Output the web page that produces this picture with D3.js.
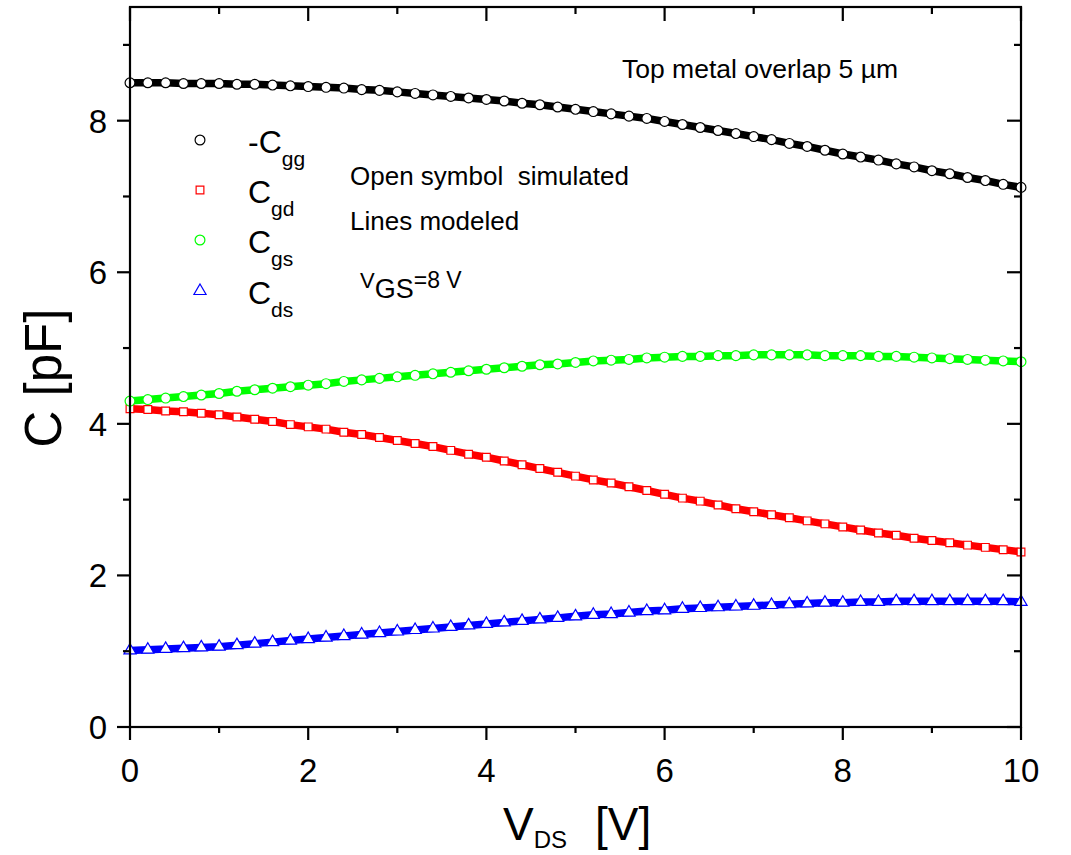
<!DOCTYPE html>
<html><head><meta charset="utf-8">
<script src="https://cdn.jsdelivr.net/npm/d3@7"></script>
<style>body{margin:0;background:#fff}svg{display:block;font-family:"Liberation Sans",Arial,sans-serif}</style>
</head><body>
<script>
const vds = d3.range(51).map(i => +(i * 0.2).toFixed(1));
const cgg = [8.50,8.50,8.50,8.49,8.49,8.49,8.48,8.48,8.47,8.46,8.45,8.44,8.43,8.41,8.40,8.38,8.36,8.34,8.32,8.30,8.28,8.26,8.23,8.21,8.18,8.15,8.12,8.09,8.06,8.03,7.99,7.95,7.91,7.87,7.83,7.79,7.75,7.70,7.66,7.61,7.56,7.52,7.48,7.43,7.39,7.34,7.30,7.25,7.21,7.16,7.12];
const cgd = [4.20,4.19,4.17,4.16,4.14,4.12,4.09,4.06,4.03,3.99,3.96,3.93,3.89,3.86,3.82,3.78,3.74,3.70,3.65,3.60,3.56,3.51,3.46,3.41,3.36,3.31,3.26,3.22,3.17,3.12,3.07,3.02,2.98,2.93,2.88,2.84,2.80,2.76,2.72,2.68,2.64,2.60,2.56,2.53,2.49,2.46,2.43,2.40,2.37,2.34,2.31];
const cgs = [4.30,4.32,4.34,4.36,4.38,4.40,4.43,4.45,4.47,4.49,4.51,4.53,4.56,4.58,4.60,4.62,4.64,4.66,4.68,4.70,4.72,4.74,4.76,4.78,4.79,4.81,4.83,4.84,4.85,4.87,4.88,4.89,4.89,4.90,4.90,4.91,4.91,4.91,4.91,4.90,4.90,4.90,4.89,4.89,4.88,4.87,4.86,4.85,4.84,4.83,4.82];
const cds = [1.01,1.02,1.03,1.04,1.05,1.06,1.08,1.10,1.12,1.14,1.16,1.18,1.20,1.22,1.24,1.26,1.28,1.30,1.32,1.34,1.36,1.38,1.40,1.42,1.44,1.46,1.48,1.49,1.51,1.53,1.54,1.56,1.57,1.58,1.59,1.60,1.61,1.62,1.63,1.64,1.64,1.65,1.65,1.66,1.66,1.66,1.66,1.66,1.66,1.66,1.65];
const xTicks = [0,2,4,6,8,10];
const yTicks = [0,2,4,6,8];
const seriesNames = ["-C","C","C","C"];
const seriesSubs = ["gg","gd","gs","ds"];
const series = [
  {values: cgg, color: "#000000", symbol: d3.symbolCircle},
  {values: cgd, color: "#ff0000", symbol: d3.symbolSquare},
  {values: cgs, color: "#00ff00", symbol: d3.symbolCircle},
  {values: cds, color: "#0000ff", symbol: d3.symbolTriangle}
];

const W = 1071, H = 855;
const m = {left:130, right:1021, top:7, bottom:727};
const svg = d3.select("body").append("svg").attr("width", W).attr("height", H);
const x = d3.scaleLinear().domain([0,10]).range([m.left, m.right]);
const y = d3.scaleLinear().domain([0,9.5]).range([m.bottom, m.top]);

const plot = svg.append("g");
const line = d3.line().x((d,i)=>x(vds[i])).y(d=>y(d));
series.forEach(s => {
  plot.append("path").attr("d", line(s.values)).attr("fill","none")
    .attr("stroke", s.color).attr("stroke-width", 7.5);
});
function symSize(sym){ return sym===d3.symbolCircle ? 76 : sym===d3.symbolSquare ? 60 : 64; }
series.forEach(s => {
  plot.selectAll(null).data(s.values).enter().append("path")
    .attr("transform",(d,i)=>`translate(${x(vds[i])},${y(d)})`)
    .attr("d", d3.symbol().type(s.symbol).size(symSize(s.symbol)))
    .attr("fill","#fff").attr("stroke", s.color).attr("stroke-width",1.2);
});

// axes
const ax = svg.append("g").attr("stroke","#000").attr("stroke-width",2.2);
const minorX = d3.range(1,10,2), minorY = [1,3,5,7,9];
ax.append("rect").attr("x",m.left).attr("y",m.top).attr("width",m.right-m.left).attr("height",m.bottom-m.top).attr("fill","none");
xTicks.forEach(v=>{
  ax.append("line").attr("x1",x(v)).attr("x2",x(v)).attr("y1",m.bottom).attr("y2",m.bottom+13);
  ax.append("line").attr("x1",x(v)).attr("x2",x(v)).attr("y1",m.top).attr("y2",m.top+14);
});
minorX.forEach(v=>{
  ax.append("line").attr("x1",x(v)).attr("x2",x(v)).attr("y1",m.bottom).attr("y2",m.bottom+6);
  ax.append("line").attr("x1",x(v)).attr("x2",x(v)).attr("y1",m.top).attr("y2",m.top+7);
});
yTicks.forEach(v=>{
  ax.append("line").attr("y1",y(v)).attr("y2",y(v)).attr("x1",m.left).attr("x2",m.left-13);
  ax.append("line").attr("y1",y(v)).attr("y2",y(v)).attr("x1",m.right).attr("x2",m.right-14);
});
minorY.forEach(v=>{
  ax.append("line").attr("y1",y(v)).attr("y2",y(v)).attr("x1",m.left).attr("x2",m.left-7);
  ax.append("line").attr("y1",y(v)).attr("y2",y(v)).attr("x1",m.right).attr("x2",m.right-7);
});
svg.selectAll(".xt").data(xTicks).enter().append("text").attr("x",d=>x(d)).attr("y",782)
  .attr("text-anchor","middle").attr("font-size",33).text(d=>d);
svg.selectAll(".yt").data(yTicks).enter().append("text").attr("x",107).attr("y",d=>y(d)+12)
  .attr("text-anchor","end").attr("font-size",33).text(d=>d);

// axis titles
const yl = svg.append("text").attr("transform","translate(61,378) rotate(-90)").attr("text-anchor","middle").attr("font-size",51);
yl.text("C [pF]");
const xl = svg.append("text").attr("x",503).attr("y",840).attr("font-size",46);
xl.append("tspan").text("V");
xl.append("tspan").attr("font-size",24).attr("dy",8).text("DS");
xl.append("tspan").attr("dy",-8).attr("dx",28).text("[V]");

// legend
const legY = [140,190,240,291];
series.forEach((s,i)=>{
  svg.append("path").attr("transform",`translate(200,${legY[i]})`)
    .attr("d", d3.symbol().type(s.symbol).size(symSize(s.symbol)))
    .attr("fill","#fff").attr("stroke",s.color).attr("stroke-width",1.2);
  const t = svg.append("text").attr("x", 248).attr("y",legY[i]+13).attr("font-size",32);
  t.append("tspan").text(seriesNames[i]);
  t.append("tspan").attr("font-size",21).attr("dy",13).text(seriesSubs[i]);
});

// annotations
svg.append("text").attr("x",622).attr("y",78).attr("font-size",26.5).text("Top metal overlap 5 \u00b5m");
svg.append("text").attr("x",350).attr("y",185).attr("font-size",26).text("Open symbol\u00a0\u00a0simulated");
svg.append("text").attr("x",350).attr("y",230).attr("font-size",26).text("Lines modeled");
const vg = svg.append("text").attr("x",360).attr("y",288).attr("font-size",22);
vg.append("tspan").text("V");
vg.append("tspan").attr("font-size",27).attr("dy",10).text("GS");
vg.append("tspan").attr("font-size",23).attr("dy",-10).text("=8 V");
</script>
</body></html>
